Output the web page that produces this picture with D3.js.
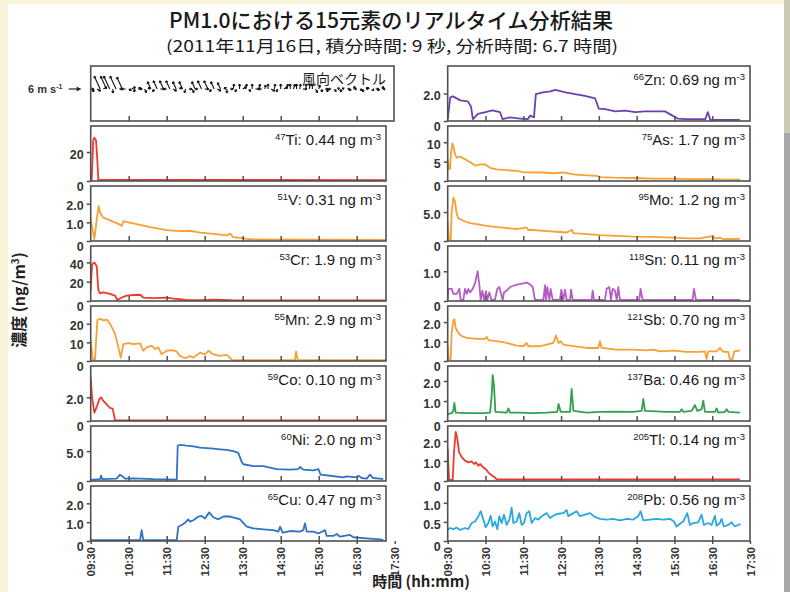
<!DOCTYPE html>
<html>
<head>
<meta charset="utf-8">
<script src="https://cdn.jsdelivr.net/npm/d3@7"></script>
<style>
body { margin: 0; background: #f8f4d9; }
svg { display: block; }
</style>
</head>
<body>
<script>

// time = minutes after 09:30, value = ng/m3
var ti = [[0,0.6],[1.6,1],[4,28],[5.8,30],[8.4,28],[10.5,14],[12.1,0.8],[465,0.6]];
var v  = [[0,1.15],[5.8,0.1],[9.5,1.15],[12.6,1.87],[14.7,1.53],[20,1.25],[30.5,1.11],[43.7,0.92],[49,0.81],[51.6,1.06],[59.5,1.0],[78,0.87],[94,0.74],[120,0.58],[141,0.53],[157,0.55],[173,0.45],[194,0.38],[215,0.3],[220,0.4],[225,0.21],[236,0.17],[246,0.11],[257,0.08],[465,0.06]];
var cr = [[0,11],[2.1,38],[5.8,40],[9.5,36],[12.1,11],[14.7,8],[20,9],[30.5,7.3],[38.4,5.5],[42,1],[49,3.6],[56.8,5.5],[67.4,6.2],[78,6.5],[83,3.6],[99,2.9],[120,3.6],[130.5,2.5],[141,1.8],[151.6,1],[172.6,1],[193.7,1.5],[220,1],[225,0.7],[465,0.7]];
var mn = [[0,10.9],[3.2,0.9],[6.8,0.9],[10.5,21.8],[14.7,22.7],[20,21.8],[25.3,22.2],[30.5,20],[38.4,14.5],[43.7,7.3],[47.4,1.8],[51.6,9.1],[59.5,9.6],[67.4,9.1],[78,9.5],[83,5.5],[88.4,7.3],[96.3,8.2],[101.6,6.4],[106.8,7.3],[112,3.6],[120,5.5],[128,5.8],[135.8,5.1],[141,2.7],[149,1.5],[156.8,2.7],[162,1.8],[172.6,4.5],[180.5,3.6],[185.8,5.5],[193.7,3.6],[204,2.7],[214.7,3.3],[220,1.8],[222.6,0.5],[322.6,0.5],[324.2,5.1],[326.8,0.5],[465,0.5]];
var co = [[0,3.7],[2.1,2.0],[5.8,0.7],[9.5,1.2],[13.7,1.85],[16.3,2.0],[20,1.7],[25.3,1.4],[30.5,1.1],[34.7,1.05],[36.8,0.5],[38.4,0.06],[465,0.06]];
var ni = [[0,0.2],[14.7,0.3],[16.3,0.9],[18.4,0.3],[41,0.4],[46.3,1.06],[50.5,0.76],[54,0.4],[67.4,0.45],[99,0.3],[135.8,0.24],[137.4,5.9],[141,6.06],[151.6,5.9],[162,5.8],[172.6,5.6],[183,5.5],[193.7,5.4],[204,5.3],[214.7,5.2],[225,5.0],[233,4.7],[238.4,3.2],[241,2.8],[257,2.5],[272.6,2.5],[278,2.35],[293.7,2.0],[314.7,1.9],[328,2.0],[330.5,2.35],[335.8,1.9],[351.6,1.76],[359.5,2.0],[363,1.06],[378,0.88],[399,0.6],[404,0.76],[420,0.6],[422.6,0.9],[428,0.5],[435.8,0.4],[441,1.06],[446,0.5],[456.8,0.4],[462,0.3]];
var cu = [[0,0.05],[77.9,0.05],[80.5,0.58],[83,0.05],[135.8,0.05],[138.4,0.76],[143.7,0.85],[149,0.97],[154,1.15],[156.8,1.03],[162,1.1],[170,1.3],[175,1.33],[180.5,1.2],[187,1.52],[193.7,1.26],[201.6,1.15],[209.5,1.3],[220,1.3],[230.5,1.2],[235.8,1.15],[246.3,0.76],[256.8,0.67],[272.6,0.62],[288.4,0.58],[296.3,0.5],[299,0.76],[303,0.44],[314.7,0.53],[330.5,0.5],[335.8,0.58],[338.4,0.94],[341,0.5],[351.6,0.5],[359.5,0.4],[370,0.58],[372.6,0.27],[383,0.27],[388.4,0.37],[393.7,0.23],[409.5,0.32],[414.7,0.2],[435.8,0.14],[456.8,0.09],[462,0.05]];
var zn = [[0,0.1],[4,1.7],[8,1.8],[12,1.7],[20,1.5],[32,1.43],[37,1.04],[40,0.13],[48,0.52],[60,0.65],[71,0.78],[83,0.65],[87,0.13],[99,0.26],[115,0.18],[127,0.13],[131,0.39],[137,0.26],[140,1.95],[151,2.08],[163,2.15],[171,2.26],[187,2.08],[202,1.95],[218,1.82],[234,1.64],[240,0.9],[250,0.86],[266,0.7],[282,0.75],[298,0.65],[313,0.7],[329,0.7],[345,0.7],[357,0.39],[365,0.18],[377,0.13],[409,0.13],[413,0.65],[417,0.08],[464,0.08]];
var as = [[0,5.6],[2.1,3],[3.7,3.2],[5.3,7.3],[7.4,9.7],[9,9],[11.6,6.9],[14.3,6],[19.6,6.3],[27.5,5.6],[35.4,4.9],[43.4,4],[51.3,4.3],[59.3,4.3],[67.2,3.4],[77.8,3],[93.7,2.8],[109.5,2.6],[120,2.3],[136,2.2],[151.9,2.2],[167.7,2],[183.6,2.2],[199.5,1.7],[215.3,1.5],[236.5,1.3],[241.8,1.0],[263,0.86],[294.7,0.78],[326.5,0.6],[358,0.6],[390,0.5],[416.4,0.5],[437.6,0.34],[464,0.34]];
var mo = [[0,3.2],[2.1,0.3],[4.8,0.3],[6.3,5],[9,7.5],[11.6,6.8],[14.3,4.7],[16.9,3.9],[24.9,3.5],[35.4,3.1],[46,2.9],[62,2.6],[83,2.35],[109.5,2.06],[125.4,2.35],[128,1.9],[136,1.9],[152,1.76],[173,1.6],[189,1.47],[197,1.94],[199.5,1.35],[220.6,1.18],[241.8,1.0],[268,0.88],[294.7,0.76],[326.5,0.7],[358,0.6],[384.7,0.47],[400.5,0.47],[421.7,0.88],[424.3,0.4],[432.3,0.6],[437.6,0.3],[464,0.35]];
var sn = [[0,0.04],[1,0.41],[6.3,0.41],[9,0.24],[14.3,0.24],[18.5,0.41],[20.6,0.04],[24.9,0.04],[27.5,0.41],[30.2,0.24],[32.8,0.41],[35.4,0.29],[39.7,0.41],[43.4,0.59],[47.6,1.0],[50.3,0.53],[52.4,0.04],[55,0.35],[57.7,0.04],[60.8,0.33],[63,0.04],[66,0.29],[69.3,0.04],[75,0.04],[78.8,0.41],[82,0.47],[84.7,0.24],[87.3,0.04],[89.4,0.29],[93.7,0.35],[99,0.47],[106.9,0.53],[112.2,0.56],[120,0.59],[125.4,0.62],[130.7,0.56],[135,0.47],[138.6,0.04],[151.9,0.04],[154.5,0.53],[156,0.04],[158.2,0.47],[161.4,0.04],[163.5,0.41],[166.7,0.04],[178.3,0.04],[180.4,0.38],[183.6,0.04],[186.2,0.38],[188.9,0.04],[194.2,0.04],[195.8,0.38],[198.4,0.04],[228.6,0.04],[230.2,0.35],[232.3,0.04],[249.7,0.04],[252.4,0.41],[256.6,0.47],[259.3,0.04],[261.9,0.41],[265.6,0.35],[268.3,0.04],[270.9,0.47],[273.5,0.04],[304.2,0.04],[306.3,0.41],[309.5,0.04],[388.9,0.04],[391,0.41],[394.2,0.04],[464,0.04]];
var sb = [[0,0.76],[1.6,0.1],[4.8,0.1],[6.3,1.45],[9,2.1],[10.6,2.14],[12.7,1.7],[16.9,1.45],[22.2,1.28],[30.2,1.19],[46,1.14],[59.3,1.14],[62,1.24],[64.6,1.07],[77.8,1.02],[93.7,0.93],[109.5,0.79],[120,0.76],[125.4,0.93],[128,0.76],[146.6,0.76],[157,0.84],[167.7,0.93],[172,1.31],[175.7,0.93],[179.4,1.02],[183.6,0.84],[199.5,0.76],[220.6,0.67],[239,0.67],[241.8,1.02],[244.4,0.67],[268.3,0.59],[294.7,0.59],[315.9,0.55],[326.5,0.59],[337,0.5],[358.2,0.53],[379.4,0.47],[400.5,0.47],[408.5,0.5],[411,0.1],[413.8,0.5],[427,0.5],[432.3,0.67],[437.6,0.47],[445.5,0.47],[448,0.1],[452.4,0.1],[455,0.5],[464,0.55]];
var ba = [[0,0.34],[6.3,0.39],[9,0.51],[10.6,0.9],[12.7,0.42],[30.2,0.39],[56.6,0.39],[67.2,0.42],[69.8,1.27],[71.4,2.29],[73.5,1.78],[75.7,0.46],[93.7,0.42],[96.3,0.63],[99,0.42],[114.8,0.42],[136,0.39],[157,0.42],[174,0.46],[176,0.85],[179.4,0.46],[194.2,0.46],[196.8,1.61],[199.5,0.51],[220.6,0.42],[241.8,0.46],[268.3,0.47],[294.7,0.46],[308,0.51],[310.6,1.1],[313.2,0.51],[347.6,0.46],[368.8,0.46],[371.4,0.59],[374,0.46],[387.3,0.51],[392.6,0.8],[396.3,0.51],[403.2,0.59],[405.8,1.02],[408.5,0.46],[424.3,0.46],[427,0.63],[429.6,0.42],[440.2,0.46],[442.9,0.59],[445.5,0.46],[464,0.42]];
var tl = [[0,1.61],[2.1,0.05],[7.9,0.05],[10,1.44],[12.7,2.46],[15.3,2.12],[18,1.44],[22.2,1.19],[27.5,1.02],[32.8,0.93],[38,0.98],[41.8,0.85],[45,0.93],[48.7,0.76],[51.3,0.85],[56.6,0.68],[60.8,0.59],[64.6,0.42],[69.8,0.29],[75.1,0.17],[77.8,0.08],[464,0.08]];
var pb = [[0,0.29],[3.7,0.34],[9,0.31],[14.3,0.35],[19.6,0.29],[27.5,0.34],[32.8,0.31],[38.1,0.47],[43.4,0.51],[48.7,0.65],[52.4,0.78],[56.6,0.56],[60.3,0.36],[64.5,0.47],[68.2,0.66],[71.4,0.38],[75.1,0.51],[78.8,0.31],[82,0.65],[85.7,0.47],[89.4,0.69],[93.6,0.42],[97.9,0.56],[101.6,0.87],[104.2,0.47],[109.5,0.51],[113.7,0.73],[117.4,0.42],[121.1,0.47],[125.3,0.73],[129.6,0.78],[133.3,0.47],[138.6,0.6],[143.9,0.56],[149.2,0.65],[157.1,0.73],[162.4,0.6],[170.3,0.69],[178.3,0.72],[183.6,0.73],[188.9,0.81],[191.5,0.65],[199.4,0.73],[204.7,0.78],[210,0.65],[218,0.69],[225.9,0.73],[233.8,0.63],[241.8,0.58],[252.3,0.56],[262.9,0.58],[273.5,0.54],[284.1,0.58],[294.7,0.56],[302.6,0.65],[306.3,0.78],[310.6,0.54],[321.1,0.56],[331.7,0.58],[342.3,0.56],[352.8,0.58],[359.2,0.51],[363.4,0.38],[368.7,0.45],[374,0.51],[380.4,0.73],[384.6,0.42],[389.9,0.47],[397.8,0.49],[403.1,0.69],[406.8,0.42],[413.7,0.47],[419,0.42],[424.3,0.66],[426.9,0.4],[432.2,0.47],[434.8,0.58],[438.5,0.38],[445.4,0.42],[450.7,0.49],[456,0.38],[461.3,0.42],[465,0.44]];

var series   = [ti, v, cr, mn, co, ni, cu, zn, as, mo, sn, sb, ba, tl, pb];
var elements = ["Ti","V","Cr","Mn","Co","Ni","Cu","Zn","As","Mo","Sn","Sb","Ba","Tl","Pb"];
var masses   = ["47","51","53","55","59","60","65","66","75","95","118","121","137","205","208"];
var means    = ["0.44","0.31","1.9","2.9","0.10","2.0","0.47","0.69","1.7","1.2","0.11","0.70","0.46","0.14","0.56"];
var yMax     = [38, 2.95, 57, 29.5, 4.65, 9.2, 2.92, 4.0, 14.2, 9.5, 1.85, 2.83, 2.75, 2.75, 1.44];
var yTicks   = [["0","20"],["0","1.0","2.0"],["0","20","40"],["0","10","20"],["0","2.0"],["0","5.0"],["0","1.0","2.0"],
                ["0","2.0"],["0","5","10"],["0","5.0"],["0","1.0"],["0","1.0","2.0"],["0","1.0","2.0"],["0","1.0","2.0"],["0","0.5","1.0"]];
var colors   = ["#ee3a2c","#f7a035","#ee3a2c","#f7a035","#ee3a2c","#2f73c2","#2f73c2",
                "#6b42ad","#f7a035","#f7a035","#b45ec4","#f7a035","#31a04d","#ee3a2c","#2aa8e2"];

var timeLabels = ["09:30","10:30","11:30","12:30","13:30","14:30","15:30","16:30","17:30"];
var timeTicks  = [0, 60, 120, 180, 240, 300, 360, 420, 480];

// wind vectors every 5 min: speed (m/s) and heading (deg clockwise from north)
var windMin = [0,5,10,15,20,25,30,35,40,45,50,55,60,65,70,75,80,85,90,95,100,105,110,115,120,125,130,135,140,145,150,155,160,165,170,175,180,185,190,195,200,205,210,215,220,225,230,235,240,245,250,255,260,265,270,275,280,285,290,295,300,305,310,315,320,325,330,335,340,345,350,355,360,365,370,375,380,385,390,395,400,405,410,415,420,425,430,435,440,445,450,455,460,465];
var windSpd = [1.5,1.5,2,7,2,7,7,2,7,1.5,6.5,2,1.5,2,1.5,2,1.5,2,1.5,4,1.5,4.5,2,4.5,1.5,4.5,2,4,1.5,4,2,1.5,2,4,1.5,4.5,2,4.5,1.5,4,2,3.5,1.5,2,1.5,2.5,1.5,2.5,2,2.5,1.5,2.5,2,2.5,1.5,2,2.5,2,2.5,1.5,2.5,2,2.5,2.5,2.5,2.5,2.5,2,2.5,2.5,2.5,2,2,1.5,1.5,1.5,1.5,1.5,1,1.5,1,1.5,1,1.5,1,1.5,1.5,1,1.5,1,1.5,1,1.5,1];
var windDir = [90,200,120,335,60,335,335,180,335,90,335,270,120,60,200,90,300,150,60,335,200,335,90,335,270,335,120,335,60,335,200,90,150,335,270,335,90,335,200,335,120,335,60,180,90,10,200,0,60,10,150,0,90,20,270,10,0,120,10,200,0,60,10,0,20,0,10,90,0,10,0,150,20,180,90,200,270,150,60,180,300,90,200,30,270,120,180,60,300,150,90,200,30,270];

var W = 790, H = 592;
var latin = "'Liberation Sans Narrow','Liberation Sans',Arial,sans-serif";
var cjk = "'Noto Sans CJK JP','Liberation Sans',sans-serif";
var frameColor = "#505050";

var svg = d3.select("body").append("svg")
    .attr("width", W)
    .attr("height", H);

// page backdrop
svg.append("rect").attr("width", W).attr("height", H).attr("fill", "#f8f4d9");
svg.append("rect").attr("x", 784).attr("y", 0).attr("width", 6).attr("height", 133).attr("fill", "#cbc8b6");
svg.append("rect").attr("x", 784).attr("y", 133).attr("width", 6).attr("height", 459).attr("fill", "#a7a7a7");
svg.append("rect").attr("x", 8).attr("y", 4).attr("width", 776).attr("height", 588).attr("fill", "#ffffff");

// titles
svg.append("text")
    .attr("x", 391).attr("y", 28)
    .attr("text-anchor", "middle")
    .attr("textLength", 444).attr("lengthAdjust", "spacingAndGlyphs")
    .style("font-family", cjk).style("font-size", "21px").style("font-weight", "500").attr("fill", "#1a1a1a")
    .text("PM1.0における15元素のリアルタイム分析結果");
svg.append("text")
    .attr("x", 392).attr("y", 52)
    .attr("text-anchor", "middle")
    .attr("textLength", 452).attr("lengthAdjust", "spacingAndGlyphs")
    .style("font-family", cjk).style("font-size", "16px").attr("fill", "#1a1a1a")
    .text("(2011年11月16日, 積分時間: 9 秒, 分析時間: 6.7 時間)");

var cols = [
    { x0: 90.7, x1: 386, xEnd: 394.7 },
    { x0: 447.7, x1: 750, xEnd: 750 }
];

function panelTop(row) { return 66 + 60 * row; }
var panelH = 55;

function xScaleFor(c) {
    return d3.scaleLinear().domain([0, 480]).range([c.x0, c.xEnd]);
}

function styleAxisText(sel) {
    sel.selectAll("text")
        .style("font-family", latin)
        .style("font-size", "12.5px")
        .style("font-weight", "bold")
        .attr("fill", "#333");
}

function drawFrameAndTicks(g, c, top, bot, x1, isBottom) {
    var x = xScaleFor(c);
    // inner ticks on the bottom edge
    var ax = g.append("g")
        .attr("transform", "translate(0," + bot + ")")
        .call(d3.axisBottom(x).tickValues(timeTicks.slice(1, 8)).tickSize(-5).tickFormat(""));
    ax.select(".domain").remove();
    ax.selectAll("line").attr("stroke", frameColor).attr("stroke-width", 1.5);

    if (isBottom) {
        var ab = g.append("g")
            .attr("transform", "translate(0," + bot + ")")
            .call(d3.axisBottom(x).tickValues(timeTicks).tickSize(3).tickFormat(function (d, i) { return timeLabels[i]; }));
        ab.select(".domain").remove();
        ab.selectAll("line").attr("stroke", frameColor).attr("stroke-width", 1.5);
        ab.selectAll("text")
            .attr("transform", "rotate(-90)")
            .attr("x", -6).attr("y", 0).attr("dy", "0.35em")
            .style("text-anchor", "end")
            .style("font-family", latin)
            .style("font-size", "11.5px")
            .style("font-weight", "bold")
            .attr("fill", "#333");
    }

    g.append("rect")
        .attr("x", c.x0).attr("y", top)
        .attr("width", x1 - c.x0).attr("height", bot - top)
        .attr("fill", "none")
        .attr("stroke", frameColor)
        .attr("stroke-width", 1.6);
}

function drawPanel(colIdx, row, k, isBottom) {
    var c = cols[colIdx];
    var top = panelTop(row), bot = top + panelH;
    var x = xScaleFor(c);
    var y = d3.scaleLinear().domain([0, yMax[k]]).range([bot, top]);
    var g = svg.append("g");

    var clipId = "clip" + k;
    svg.append("clipPath").attr("id", clipId)
        .append("rect")
        .attr("x", c.x0).attr("y", top)
        .attr("width", c.x1 - c.x0).attr("height", bot - top);

    var line = d3.line()
        .x(function (d) { return x(d[0]); })
        .y(function (d) { return y(d[1]); });

    g.append("path")
        .datum(series[k])
        .attr("clip-path", "url(#" + clipId + ")")
        .attr("d", line)
        .attr("fill", "none")
        .attr("stroke", colors[k])
        .attr("stroke-width", 1.8)
        .attr("stroke-linejoin", "round");

    // y axis
    var labels = yTicks[k];
    var ay = g.append("g")
        .attr("transform", "translate(" + c.x0 + ",0)")
        .call(d3.axisLeft(y)
            .tickValues(labels.map(function (s) { return +s; }))
            .tickSize(4).tickPadding(3)
            .tickFormat(function (d, i) { return labels[i]; }));
    ay.select(".domain").remove();
    ay.selectAll("line").attr("stroke", frameColor).attr("stroke-width", 1.5);
    styleAxisText(ay);
    ay.selectAll("text").attr("dy", function (d) { return d === 0 ? "0.75em" : "0.5em"; });

    drawFrameAndTicks(g, c, top, bot, c.x1, isBottom);

    // element label
    var t = g.append("text")
        .attr("x", c.x1 - 5).attr("y", top + 19)
        .attr("text-anchor", "end")
        .style("font-family", latin)
        .style("font-size", "15px")
        .attr("fill", "#1a1a1a");
    t.append("tspan").attr("font-size", "9.5px").attr("dy", -5).text(masses[k]);
    t.append("tspan").attr("dy", 5).text(elements[k] + ": " + means[k] + " ng m");
    t.append("tspan").attr("font-size", "9.5px").attr("dy", -5).text("-3");
}

// wind vector panel (top left)
(function () {
    var c = cols[0];
    var top = panelTop(0), bot = top + panelH;
    var x = xScaleFor(c);
    var base = 89;
    var g = svg.append("g");
    var len = d3.scaleLinear().domain([0, 6]).range([0, 12]);

    windMin.forEach(function (m, i) {
        var L = len(windSpd[i]);
        var a = windDir[i] * Math.PI / 180;
        var x0 = x(m), x1 = x0 + L * Math.sin(a), y1 = base - L * Math.cos(a);
        g.append("line")
            .attr("x1", x0).attr("y1", base).attr("x2", x1).attr("y2", y1)
            .attr("stroke", "#111").attr("stroke-width", 1.1);
        var h = 2.2;
        [a + 2.6, a - 2.6].forEach(function (b) {
            g.append("line")
                .attr("x1", x1).attr("y1", y1)
                .attr("x2", x1 + h * Math.sin(b)).attr("y2", y1 - h * Math.cos(b))
                .attr("stroke", "#111").attr("stroke-width", 1.1);
        });
    });

    drawFrameAndTicks(g, c, top, bot, 394, false);

    g.append("text")
        .attr("x", 386).attr("y", top + 18)
        .attr("text-anchor", "end")
        .style("font-family", cjk).style("font-size", "14px")
        .attr("fill", "#1a1a1a")
        .text("風向ベクトル");

    var r = g.append("text")
        .attr("x", 28).attr("y", base + 4)
        .style("font-family", latin).style("font-size", "11px").style("font-weight", "bold")
        .attr("fill", "#333");
    r.append("tspan").text("6 m s");
    r.append("tspan").attr("font-size", "7px").attr("dy", -4).text("-1");

    g.append("line")
        .attr("x1", x(0) - len(6) - 10).attr("y1", base)
        .attr("x2", x(0) - 10).attr("y2", base)
        .attr("stroke", "#222").attr("stroke-width", 1.2);
    g.append("path")
        .attr("d", "M" + (x(0) - 10) + "," + base + "l-4,-2.5l0,5z")
        .attr("fill", "#222");
})();

for (var k = 0; k < 7; k++) drawPanel(0, k + 1, k, k === 6);
for (var j = 0; j < 8; j++) drawPanel(1, j, 7 + j, j === 7);

// axis titles
svg.append("text")
    .attr("transform", "translate(25,300) rotate(-90)")
    .attr("text-anchor", "middle")
    .style("font-family", cjk).style("font-size", "16px").style("font-weight", "bold")
    .attr("fill", "#222")
    .call(function (t) {
        t.append("tspan").text("濃度 (ng/m");
        t.append("tspan").attr("font-size", "10px").attr("dy", -6).text("3");
        t.append("tspan").attr("dy", 6).text(")");
    });

svg.append("text")
    .attr("x", 421).attr("y", 587)
    .attr("text-anchor", "middle")
    .style("font-family", cjk).style("font-size", "15px").style("font-weight", "bold")
    .attr("fill", "#222")
    .text("時間 (hh:mm)");

</script>
</body>
</html>
